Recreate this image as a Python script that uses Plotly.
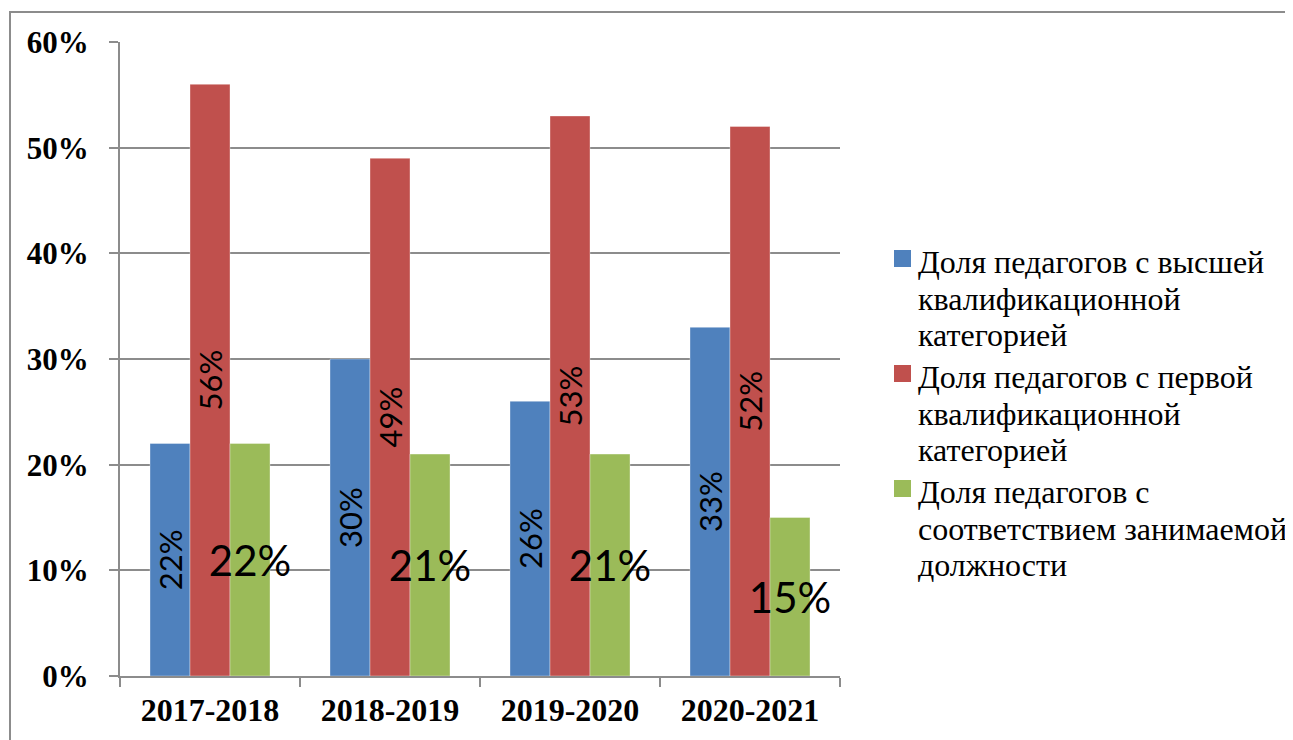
import plotly.graph_objects as go

categories = ["2017-2018", "2018-2019", "2019-2020", "2020-2021"]
highest = [0.22, 0.30, 0.26, 0.33]
first = [0.56, 0.49, 0.53, 0.52]
position = [0.22, 0.21, 0.21, 0.15]
legend_lines = [
    ["Доля педагогов с высшей", "квалификационной", "категорией"],
    ["Доля педагогов с первой", "квалификационной", "категорией"],
    ["Доля педагогов с", "соответствием занимаемой", "должности"],
]
colors = ["#4F81BD", "#C0504D", "#9BBB59"]
tick_vals = [0, 0.1, 0.2, 0.3, 0.4, 0.5, 0.6]

label_font = "Lato, Carlito, Calibri, sans-serif"
serif = "Liberation Serif"

fig = go.Figure()
for vals, lines, col, angle, size in [
    (highest, legend_lines[0], colors[0], -90, 31),
    (first, legend_lines[1], colors[1], -90, 31),
    (position, legend_lines[2], colors[2], 0, 42),
]:
    fig.add_trace(go.Bar(
        x=categories, y=vals, name=" ".join(lines),
        marker=dict(color=col, line=dict(color="rgba(255,255,255,0.35)", width=1)),
        text=[f"{round(v*100)}%" for v in vals],
        textposition="inside", insidetextanchor="middle",
        textangle=angle, constraintext="none",
        textfont=dict(family=label_font, size=size, color="black"),
        showlegend=False,
    ))

OFF = 8  # page body margin
W, H = 1293 - OFF, 740 - OFF
L, T = 120 - OFF, 42 - OFF
R = 1293 - 840
B = 740 - 676
pw, ph = W - L - R, H - T - B

def px_x(x):
    return (x - 120) / pw

def px_y(y):
    return (676 - y) / ph

# custom legend (Word-style tight line spacing)
shapes = [dict(
    type="rect", xref="paper", yref="paper",
    x0=px_x(10), x1=px_x(1310),
    y0=px_y(760), y1=px_y(12),
    line=dict(color="#8C8C8C", width=2), layer="below",
)]
annotations = []
item_top, item_step, line_step = 262, 115, 36.5
for i, (lines, col) in enumerate(zip(legend_lines, colors)):
    yc = item_top + i * item_step
    shapes.append(dict(
        type="rect", xref="paper", yref="paper",
        x0=px_x(894), x1=px_x(911),
        y0=px_y(yc + 5), y1=px_y(yc - 12),
        fillcolor=col, line=dict(width=0),
    ))
    for j, line in enumerate(lines):
        annotations.append(dict(
            xref="paper", yref="paper",
            x=px_x(916), y=px_y(yc + j * line_step),
            xanchor="left", yanchor="middle",
            text=line, showarrow=False,
            font=dict(family=serif, size=32, color="black"),
        ))

fig.update_layout(
    width=W, height=H,
    margin=dict(l=L, r=R, t=T, b=B),
    paper_bgcolor="white", plot_bgcolor="white",
    barmode="group", bargap=1/3, bargroupgap=0,
    showlegend=False,
    xaxis=dict(
        showline=True, linecolor="#8C8C8C", linewidth=2,
        ticks="outside", tickson="boundaries", ticklen=9, tickcolor="#8C8C8C", tickwidth=2,
        tickfont=dict(family=serif, size=32, color="black", weight="bold"),
        showgrid=False, ticklabelstandoff=5,
    ),
    yaxis=dict(
        range=[0, 0.6], tickvals=tick_vals, tickformat=".0%",
        showline=True, linecolor="#8C8C8C", linewidth=2,
        ticks="outside", ticklen=9, tickcolor="#8C8C8C", tickwidth=2,
        showgrid=True, gridcolor="#8C8C8C", gridwidth=2,
        zeroline=False,
        tickfont=dict(family=serif, size=31, color="black", weight="bold"),
        ticklabelstandoff=14,
    ),
    shapes=shapes,
    annotations=annotations,
)

fig.write_html("out.html")
